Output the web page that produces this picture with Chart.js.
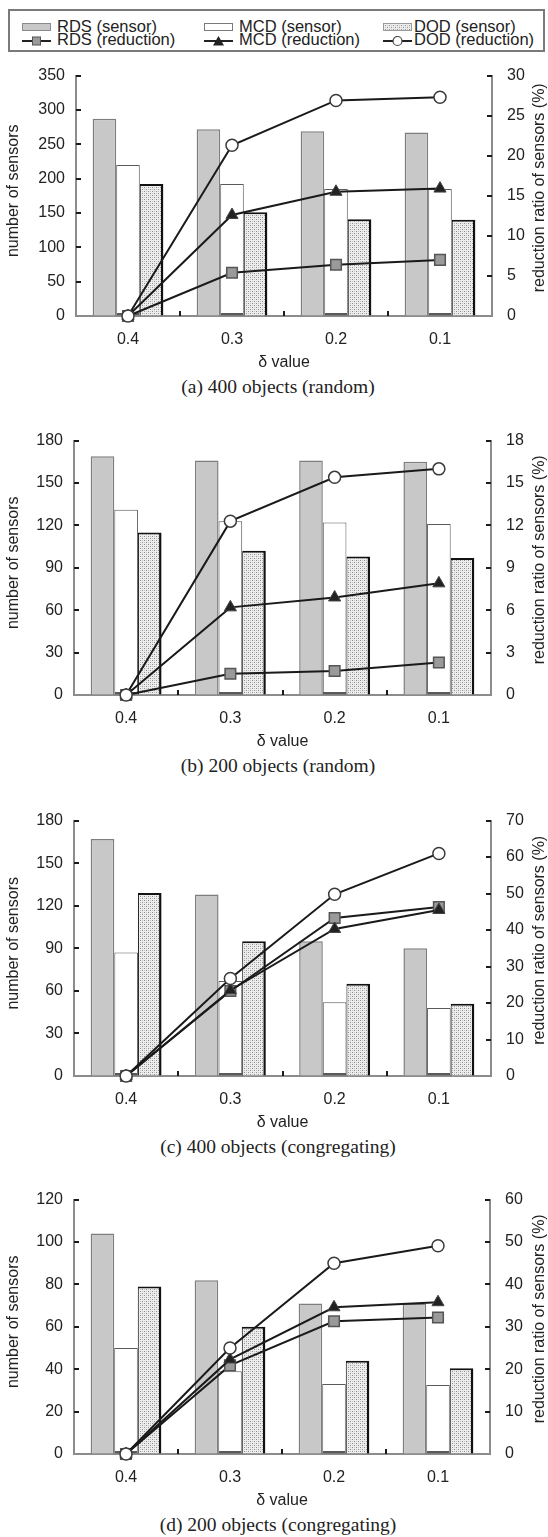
<!DOCTYPE html>
<html><head><meta charset="utf-8">
<script src="https://cdn.jsdelivr.net/npm/chart.js@4.4.1/dist/chart.umd.min.js"></script>
<style>
html,body{margin:0;padding:0;background:#fff;}
body{width:548px;height:1537px;position:relative;overflow:hidden;font-family:"Liberation Sans",Arial,sans-serif;color:#222;}
canvas.cv{position:absolute;left:0;}
.cap{position:absolute;left:0;width:556px;text-align:center;font-family:"Liberation Serif","Times New Roman",serif;font-size:19.5px;line-height:19.5px;color:#222;}
#legendBox{position:absolute;left:8px;top:9px;width:533px;height:39px;border:2px solid #7a7a7a;}
.li{position:absolute;font-size:16.5px;line-height:16.5px;white-space:nowrap;color:#222;}
.ic{position:absolute;}
</style></head>
<body>
<svg width="0" height="0" style="position:absolute">
  <defs>
    <pattern id="dotpat" width="4" height="4" patternUnits="userSpaceOnUse">
      <rect width="4" height="4" fill="#ededed"/>
      <rect x="0" y="0" width="1" height="1" fill="#8f8f8f"/>
      <rect x="2" y="2" width="1" height="1" fill="#8f8f8f"/>
      <rect x="2" y="0" width="1" height="1" fill="#c4c4c4"/>
      <rect x="0" y="2" width="1" height="1" fill="#c4c4c4"/>
    </pattern>
  </defs>
</svg>
<div id="legendBox"></div>
<svg class="ic" style="left:22px;top:22.5px" width="29" height="8"><rect x="0.5" y="0.5" width="28" height="7" fill="#c8c8c8" stroke="#8a8a8a"/></svg>
<div class="li" style="left:57px;top:17.6px">RDS (sensor)</div>
<svg class="ic" style="left:204px;top:22.5px" width="29" height="8"><rect x="0.5" y="0.5" width="28" height="7" fill="#ffffff" stroke="#7a7a7a"/></svg>
<div class="li" style="left:239px;top:17.6px">MCD (sensor)</div>
<svg class="ic" style="left:383px;top:22.5px" width="29" height="8"><rect x="0.5" y="0.5" width="28" height="7" fill="url(#dotpat)" stroke="#9a9a9a"/></svg>
<div class="li" style="left:414px;top:17.6px">DOD (sensor)</div>
<svg class="ic" style="left:22px;top:34.5px" width="29" height="12"><line x1="0" y1="6" x2="29" y2="6" stroke="#222" stroke-width="2"/><rect x="10.5" y="2" width="8" height="8" fill="#9a9a9a" stroke="#555"/></svg>
<div class="li" style="left:57px;top:31.4px">RDS (reduction)</div>
<svg class="ic" style="left:204px;top:34.5px" width="29" height="12"><line x1="0" y1="6" x2="29" y2="6" stroke="#222" stroke-width="2"/><polygon points="14.5,1 20,10.5 9,10.5" fill="#222"/></svg>
<div class="li" style="left:239px;top:31.4px">MCD (reduction)</div>
<svg class="ic" style="left:383px;top:34.5px" width="29" height="12"><line x1="0" y1="6" x2="29" y2="6" stroke="#222" stroke-width="2"/><circle cx="14.5" cy="6" r="4.5" fill="#fff" stroke="#444" stroke-width="1.2"/></svg>
<div class="li" style="left:414px;top:31.4px">DOD (reduction)</div>

<canvas class="cv" id="ca"></canvas>
<canvas class="cv" id="cb"></canvas>
<canvas class="cv" id="cc"></canvas>
<canvas class="cv" id="cd"></canvas>
<div class="cap" id="capA">(a) 400 objects (random)</div>
<div class="cap" id="capB">(b) 200 objects (random)</div>
<div class="cap" id="capC">(c) 400 objects (congregating)</div>
<div class="cap" id="capD">(d) 200 objects (congregating)</div>

<script>
// ---------- data ----------
const categories = ['0.4', '0.3', '0.2', '0.1'];

// (a) 400 objects (random)
const aRdsSensor = [287, 272, 269, 267];
const aMcdSensor = [220, 192, 185, 185];
const aDodSensor = [192, 151, 141, 140];
const aRdsReduction = [0, 5.4, 6.4, 7.0];
const aMcdReduction = [0, 12.6, 15.5, 15.9];
const aDodReduction = [0, 21.3, 26.9, 27.3];
const aLeftTicks = [0, 50, 100, 150, 200, 250, 300, 350];
const aRightTicks = [0, 5, 10, 15, 20, 25, 30];

// (b) 200 objects (random)
const bRdsSensor = [169, 166, 166, 165];
const bMcdSensor = [131, 123, 122, 121];
const bDodSensor = [115, 102, 98, 97];
const bRdsReduction = [0, 1.5, 1.7, 2.3];
const bMcdReduction = [0, 6.2, 6.9, 7.9];
const bDodReduction = [0, 12.3, 15.4, 16.0];
const bLeftTicks = [0, 30, 60, 90, 120, 150, 180];
const bRightTicks = [0, 3, 6, 9, 12, 15, 18];

// (c) 400 objects (congregating)
const cRdsSensor = [167, 128, 95, 90];
const cMcdSensor = [87, 67, 52, 48];
const cDodSensor = [129, 95, 65, 51];
const cRdsReduction = [0, 23.3, 43.3, 46.3];
const cMcdReduction = [0, 23.5, 40.3, 45.5];
const cDodReduction = [0, 26.7, 49.8, 61.0];
const cLeftTicks = [0, 30, 60, 90, 120, 150, 180];
const cRightTicks = [0, 10, 20, 30, 40, 50, 60, 70];

// (d) 200 objects (congregating)
const dRdsSensor = [104, 82, 71, 71];
const dMcdSensor = [50, 39, 33, 32.5];
const dDodSensor = [79, 60, 44, 40.5];
const dRdsReduction = [0, 20.9, 31.3, 32.2];
const dMcdReduction = [0, 22.3, 34.6, 35.8];
const dDodReduction = [0, 25.0, 45.0, 49.1];
const dLeftTicks = [0, 20, 40, 60, 80, 100, 120];
const dRightTicks = [0, 10, 20, 30, 40, 50, 60];

// ---------- styling ----------
const FONT = '"Liberation Sans", Arial, sans-serif';
Chart.defaults.font.family = FONT;
Chart.defaults.color = '#222';

function dodPattern() {
  const c = document.createElement('canvas');
  c.width = 4; c.height = 4;
  const g = c.getContext('2d');
  g.fillStyle = '#ededed'; g.fillRect(0, 0, 4, 4);
  g.fillStyle = '#8f8f8f'; g.fillRect(0, 0, 1, 1); g.fillRect(2, 2, 1, 1);
  g.fillStyle = '#c4c4c4'; g.fillRect(2, 0, 1, 1); g.fillRect(0, 2, 1, 1);
  return g.createPattern(c, 'repeat');
}
const DOD_FILL = dodPattern();

const axisDecor = {
  id: 'axisDecor',
  afterDraw(chart) {
    const ctx = chart.ctx, area = chart.chartArea;
    const yl = chart.scales.y, yr = chart.scales.y1, xs = chart.scales.x;
    ctx.save();
    ctx.strokeStyle = '#1a1a1a';
    ctx.lineWidth = 2;
    ctx.beginPath();
    for (let i = 1; i < yl.ticks.length; i++) {
      const p = Math.round(yl.getPixelForTick(i));
      ctx.moveTo(area.left, p); ctx.lineTo(area.left + 5, p);
    }
    for (let i = 1; i < yr.ticks.length; i++) {
      const p = Math.round(yr.getPixelForTick(i));
      ctx.moveTo(area.right, p); ctx.lineTo(area.right - 5, p);
    }
    for (let i = 0; i < xs.ticks.length - 1; i++) {
      const p = Math.round((xs.getPixelForTick(i) + xs.getPixelForTick(i + 1)) / 2);
      ctx.moveTo(p, area.bottom); ctx.lineTo(p, area.bottom - 5);
    }
    ctx.stroke();
    const mid = (area.top + area.bottom) / 2;
    ctx.fillStyle = '#222';
    ctx.font = '16px ' + FONT;
    ctx.textAlign = 'center';
    ctx.textBaseline = 'middle';
    // left axis title, reading bottom to top
    ctx.save();
    ctx.translate(14, mid - 5);
    ctx.rotate(-Math.PI / 2);
    ctx.fillText('number of sensors', 0, 0);
    ctx.restore();
    // right axis title, reading bottom to top
    ctx.save();
    ctx.translate(chart.width - 8, mid - 8);
    ctx.rotate(-Math.PI / 2);
    ctx.fillText('reduction ratio of sensors (%)', 0, 0);
    ctx.restore();
    ctx.restore();
  }
};

const PAGE_W = 548;
const PAD_TOP = 16;
const X_AXIS_H = 58;

function buildChart(id, capId, plotTop, plotBottom, plotLeft, plotRight,
                    rdsS, mcdS, dodS, rdsR, mcdR, dodR, leftTicks, rightTicks) {
  const cv = document.getElementById(id);
  const h = Math.round(plotBottom - plotTop + PAD_TOP + X_AXIS_H);
  cv.width = PAGE_W; cv.height = h;
  cv.style.width = PAGE_W + 'px'; cv.style.height = h + 'px';
  cv.style.top = (plotTop - PAD_TOP) + 'px';
  const cap = document.getElementById(capId);
  cap.style.top = (plotBottom + 71 - 10) + 'px';

  const tickFont = { size: 16, family: FONT };
  const lineBase = { type: 'line', yAxisID: 'y1', borderColor: '#1a1a1a', borderWidth: 2,
                     tension: 0, clip: false, pointBorderWidth: 1.5 };
  new Chart(cv, {
    data: {
      labels: categories,
      datasets: [
        Object.assign({}, lineBase, { label: 'DOD (reduction)', data: dodR, order: 1,
          pointStyle: 'circle', pointRadius: 6, pointBackgroundColor: '#ffffff', pointBorderColor: '#3a3a3a' }),
        Object.assign({}, lineBase, { label: 'MCD (reduction)', data: mcdR, order: 2,
          pointStyle: 'triangle', pointRadius: 7, pointBackgroundColor: '#222222', pointBorderColor: '#444444', pointBorderWidth: 1 }),
        Object.assign({}, lineBase, { label: 'RDS (reduction)', data: rdsR, order: 3,
          pointStyle: 'rect', pointRadius: 7.5, pointBackgroundColor: '#9a9a9a', pointBorderColor: '#555555' }),
        { type: 'bar', label: 'RDS (sensor)', data: rdsS, yAxisID: 'y', order: 4,
          backgroundColor: '#c8c8c8', borderColor: '#7e7e7e',
          borderWidth: { top: 1.5, left: 1.5, right: 1.5, bottom: 0 }, borderSkipped: 'start' },
        { type: 'bar', label: 'MCD (sensor)', data: mcdS, yAxisID: 'y', order: 4,
          backgroundColor: '#ffffff', borderColor: '#5a5a5a',
          borderWidth: { top: 1, left: 1, right: 1, bottom: 2.5 }, borderSkipped: false },
        { type: 'bar', label: 'DOD (sensor)', data: dodS, yAxisID: 'y', order: 4,
          backgroundColor: DOD_FILL, borderColor: '#111111',
          borderWidth: { top: 2, left: 1, right: 2.5, bottom: 0 }, borderSkipped: 'start' }
      ]
    },
    options: {
      responsive: false,
      animation: false,
      devicePixelRatio: 1,
      events: [],
      layout: { padding: { top: PAD_TOP, left: 0, right: 0, bottom: 0 } },
      datasets: { bar: { categoryPercentage: 0.68, barPercentage: 1.0 } },
      plugins: { legend: { display: false }, tooltip: { enabled: false }, title: { display: false } },
      scales: {
        x: {
          type: 'category', offset: true,
          grid: { display: true, drawOnChartArea: false, drawTicks: false },
          border: { display: true, color: '#8c8c8c', width: 2 },
          ticks: { font: tickFont, color: '#222', padding: 14 },
          title: { display: true, text: 'δ value', font: tickFont, color: '#222', padding: { top: 0, bottom: 2 } },
          afterFit(s) { s.height = X_AXIS_H; }
        },
        y: {
          position: 'left', min: leftTicks[0], max: leftTicks[leftTicks.length - 1],
          afterBuildTicks(s) { s.ticks = leftTicks.map(v => ({ value: v })); },
          grid: { display: true, drawOnChartArea: false, drawTicks: false },
          border: { display: true, color: '#8c8c8c', width: 2 },
          ticks: { font: tickFont, color: '#222', padding: 11 },
          title: { display: false },
          afterFit(s) { s.width = plotLeft; }
        },
        y1: {
          position: 'right', min: rightTicks[0], max: rightTicks[rightTicks.length - 1],
          afterBuildTicks(s) { s.ticks = rightTicks.map(v => ({ value: v })); },
          grid: { display: true, drawOnChartArea: false, drawTicks: false },
          border: { display: true, color: '#8c8c8c', width: 2 },
          ticks: { font: tickFont, color: '#222', padding: 15 },
          title: { display: false },
          afterFit(s) { s.width = PAGE_W - plotRight; }
        }
      }
    },
    plugins: [axisDecor]
  });
}

buildChart('ca', 'capA', 66.7, 315.7, 76, 492,
  aRdsSensor, aMcdSensor, aDodSensor, aRdsReduction, aMcdReduction, aDodReduction, aLeftTicks, aRightTicks);
buildChart('cb', 'capB', 432.3, 695, 74, 491,
  bRdsSensor, bMcdSensor, bDodSensor, bRdsReduction, bMcdReduction, bDodReduction, bLeftTicks, bRightTicks);
buildChart('cc', 'capC', 811.7, 1076, 74, 491,
  cRdsSensor, cMcdSensor, cDodSensor, cRdsReduction, cMcdReduction, cDodReduction, cLeftTicks, cRightTicks);
buildChart('cd', 'capD', 1190.7, 1454, 74, 490,
  dRdsSensor, dMcdSensor, dDodSensor, dRdsReduction, dMcdReduction, dDodReduction, dLeftTicks, dRightTicks);
</script>
</body></html>
